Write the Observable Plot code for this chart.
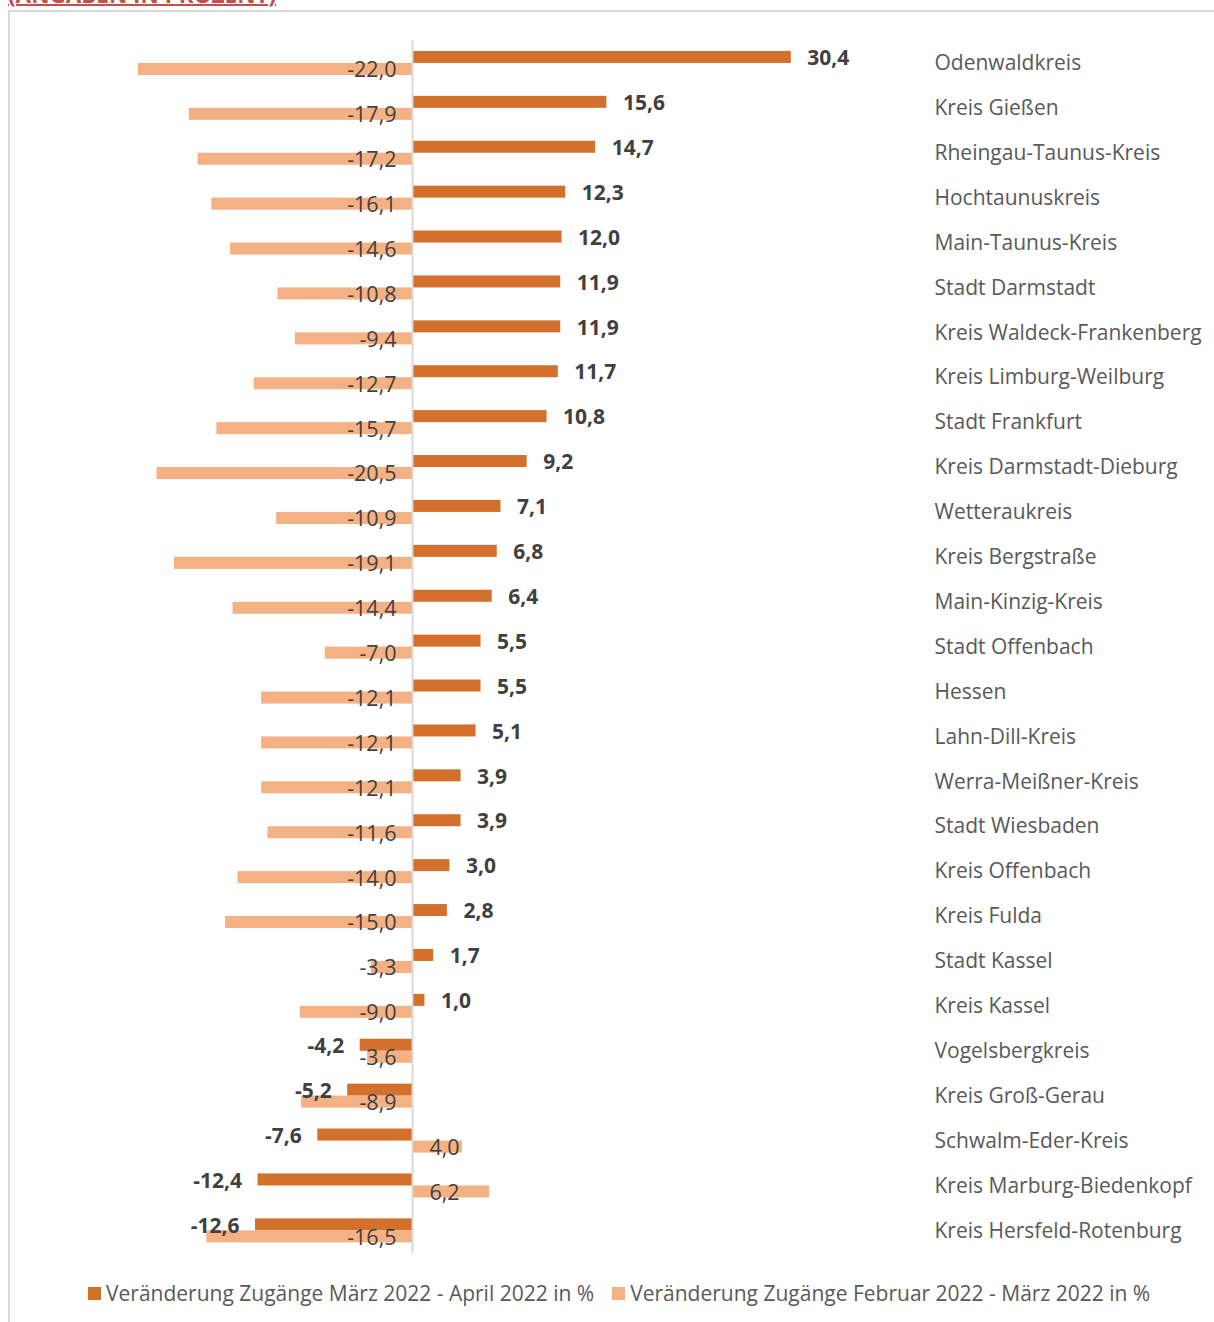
<!DOCTYPE html>
<html>
<head>
<meta charset="utf-8">
<script src="https://cdn.jsdelivr.net/npm/d3@7"></script>
<script src="https://cdn.jsdelivr.net/npm/@observablehq/plot@0.6"></script>
<style>
  html, body { margin: 0; padding: 0; background: #fff; }
  #page { position: relative; width: 1214px; height: 1322px; overflow: hidden; font-family: "Open Sans", sans-serif; }
  #frame { position: absolute; left: 8px; top: 10px; width: 1300px; height: 1400px; border-left: 2px solid #d9d9d9; border-top: 2px solid #d9d9d9; }
  #title { position: absolute; left: 8px; top: -16px; font-size: 22.5px; line-height: 22px; font-weight: 700; color: #c0504d; text-decoration: underline; text-decoration-thickness: 2px; white-space: nowrap; }
  #chart { position: absolute; left: 0; top: 0; }
  #legend { position: absolute; left: 88px; top: 1279px; display: flex; align-items: center; font-size: 21px; color: #595959; white-space: nowrap; }
  .sw { display: inline-block; width: 13px; height: 13px; margin-right: 5px; }
  .item { display: flex; align-items: center; margin-right: 18px; }
</style>
</head>
<body>
<div id="page">
  <div id="frame"></div>
  <div id="title">(ANGABEN IN PROZENT)</div>
  <div id="chart"></div>
  <div id="legend"></div>
</div>
<script>
const categories = [
  "Odenwaldkreis", "Kreis Gießen", "Rheingau-Taunus-Kreis", "Hochtaunuskreis",
  "Main-Taunus-Kreis", "Stadt Darmstadt", "Kreis Waldeck-Frankenberg",
  "Kreis Limburg-Weilburg", "Stadt Frankfurt", "Kreis Darmstadt-Dieburg",
  "Wetteraukreis", "Kreis Bergstraße", "Main-Kinzig-Kreis", "Stadt Offenbach",
  "Hessen", "Lahn-Dill-Kreis", "Werra-Meißner-Kreis", "Stadt Wiesbaden",
  "Kreis Offenbach", "Kreis Fulda", "Stadt Kassel", "Kreis Kassel",
  "Vogelsbergkreis", "Kreis Groß-Gerau", "Schwalm-Eder-Kreis",
  "Kreis Marburg-Biedenkopf", "Kreis Hersfeld-Rotenburg"
];
const marchApril = [30.4, 15.6, 14.7, 12.3, 12.0, 11.9, 11.9, 11.7, 10.8, 9.2, 7.1, 6.8, 6.4, 5.5, 5.5, 5.1, 3.9, 3.9, 3.0, 2.8, 1.7, 1.0, -4.2, -5.2, -7.6, -12.4, -12.6];
const febMarch = [-22.0, -17.9, -17.2, -16.1, -14.6, -10.8, -9.4, -12.7, -15.7, -20.5, -10.9, -19.1, -14.4, -7.0, -12.1, -12.1, -12.1, -11.6, -14.0, -15.0, -3.3, -9.0, -3.6, -8.9, 4.0, 6.2, -16.5];
const seriesNames = [
  "Veränderung Zugänge März 2022 - April 2022 in %",
  "Veränderung Zugänge Februar 2022 - März 2022 in %"
];
const seriesColors = ["#d2702c", "#f4b183"];

const table = [];
categories.forEach((c, i) => {
  table.push({name: c, series: seriesNames[0], value: marchApril[i]});
  table.push({name: c, series: seriesNames[1], value: febMarch[i]});
});
const fmt = v => v.toFixed(1).replace(".", ",");
const dark = table.filter(d => d.series === seriesNames[0]);
const light = table.filter(d => d.series === seriesNames[1]);

const chart = Plot.plot({
  width: 1214,
  height: 1262,
  marginTop: 40.5,
  marginBottom: 9.2,
  marginLeft: 100.5,
  marginRight: 303.6,
  style: {fontFamily: "Open Sans, sans-serif", color: "#595959", background: "transparent"},
  x: {domain: [-25, 40], axis: null},
  y: {domain: seriesNames, paddingInner: 0, paddingOuter: 0.87, round: false, axis: null},
  fy: {domain: categories, padding: 0, round: false, label: null},
  color: {domain: seriesNames, range: seriesColors},
  marks: [
    Plot.axisFy({anchor: "right", tickSize: 0, tickPadding: 23.6, textAnchor: "start", fontSize: 21, label: null}),
    Plot.barX(table, {x: "value", y: "series", fy: "name", fill: "series"}),
    Plot.ruleX([0], {stroke: "#d9d9d9", strokeWidth: 2}),
    Plot.text(light.filter(d => d.value < 0), {x: 0, y: "series", fy: "name", text: d => fmt(d.value), textAnchor: "end", dx: -16, dy: 1, fontSize: 21.5, fill: "#404040"}),
    Plot.text(light.filter(d => d.value >= 0), {x: 0, y: "series", fy: "name", text: d => fmt(d.value), textAnchor: "start", dx: 17, dy: 1, fontSize: 21.5, fill: "#404040"}),
    Plot.text(dark.filter(d => d.value >= 0), {x: "value", y: "series", fy: "name", text: d => fmt(d.value), textAnchor: "start", dx: 16, dy: 1, fontSize: 21, fontWeight: "bold", fill: "#404040"}),
    Plot.text(dark.filter(d => d.value < 0), {x: "value", y: "series", fy: "name", text: d => fmt(d.value), textAnchor: "end", dx: -16, dy: 1, fontSize: 21, fontWeight: "bold", fill: "#404040"})
  ]
});
document.getElementById("chart").appendChild(chart);

const legend = document.getElementById("legend");
seriesNames.forEach((s, i) => {
  const item = document.createElement("span");
  item.className = "item";
  const sw = document.createElement("span");
  sw.className = "sw";
  sw.style.background = seriesColors[i];
  item.appendChild(sw);
  item.appendChild(document.createTextNode(s));
  legend.appendChild(item);
});
</script>
</body>
</html>
